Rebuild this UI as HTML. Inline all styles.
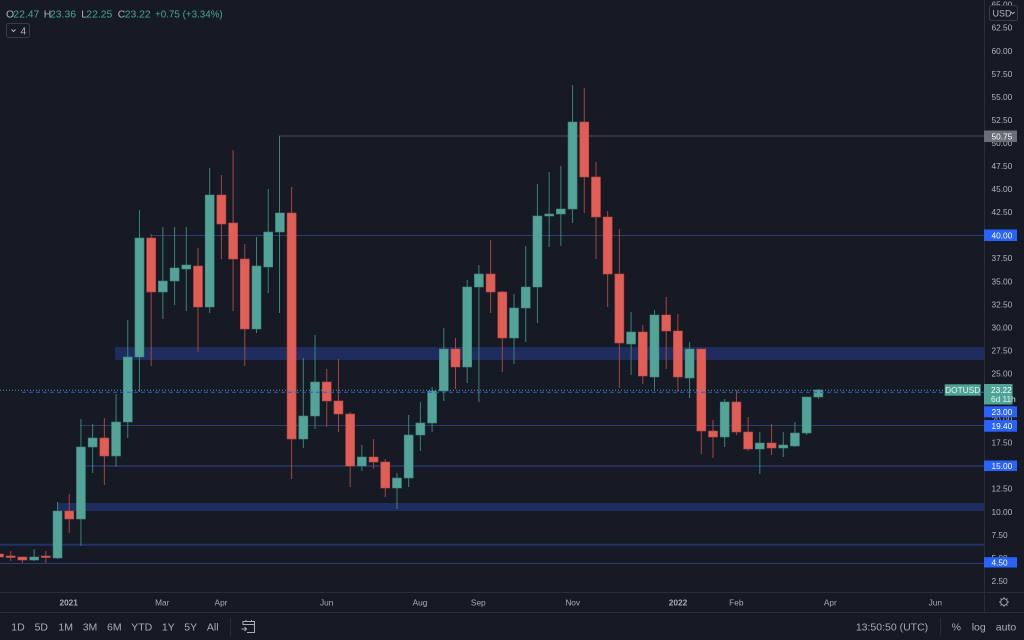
<!DOCTYPE html>
<html><head><meta charset="utf-8"><style>
html,body{margin:0;padding:0;background:#161a25;}
svg{display:block;}
text{font-family:"Liberation Sans",sans-serif;}
.g{fill:#52a398;stroke:#3f857c;stroke-width:0.6}
.r{fill:#e15d55;stroke:#b84a44;stroke-width:0.6}
.wg{stroke:#3b8278;stroke-width:1}
.wr{stroke:#a8453f;stroke-width:1}
.ax{fill:#b2b5be;font-size:8.3px}
.tx{fill:#a9acb5;font-size:8.3px;text-anchor:middle}
.tb{fill:#a9acb5;font-size:10.5px;text-anchor:middle}
.lb{fill:#ffffff;font-size:8.3px}
</style></head><body>
<svg width="1024" height="640" viewBox="0 0 1024 640" xmlns="http://www.w3.org/2000/svg">
<rect width="1024" height="640" fill="#161a25"/>

<!-- zones and levels -->
<rect x="115" y="347" width="869" height="13" fill="#1f2d5e"/>
<rect x="57" y="503" width="927" height="8" fill="#1f2d5e"/>
<line x1="279" y1="136" x2="984" y2="136" stroke="#4a4d58" stroke-width="1"/>
<line x1="151" y1="235.5" x2="984" y2="235.5" stroke="#2f3c74" stroke-width="1"/>
<line x1="80" y1="425.5" x2="984" y2="425.5" stroke="#2f3c74" stroke-width="1"/>
<line x1="85" y1="466" x2="984" y2="466" stroke="#2a3668" stroke-width="1.4"/>
<line x1="0" y1="544.7" x2="984" y2="544.7" stroke="#23316a" stroke-width="2"/>
<line x1="0" y1="563.5" x2="984" y2="563.5" stroke="#2f3c74" stroke-width="1"/>

<!-- candles -->
<g>
<line class="wr" x1="-1" y1="554" x2="-1" y2="557"/><rect class="r" x="-5.5" y="554" width="9" height="3"/>
<line class="wr" x1="10.7" y1="551" x2="10.7" y2="561"/><rect class="r" x="6.2" y="556" width="9" height="1.5"/>
<line class="wr" x1="22.41" y1="557" x2="22.41" y2="563"/><rect class="r" x="17.91" y="557" width="9" height="3"/>
<line class="wg" x1="34.12" y1="549" x2="34.12" y2="561"/><rect class="g" x="29.62" y="557" width="9" height="3"/>
<line class="wr" x1="45.82" y1="551" x2="45.82" y2="563"/><rect class="r" x="41.32" y="556" width="9" height="1.5"/>
<line class="wg" x1="57.53" y1="502" x2="57.53" y2="559"/><rect class="g" x="53.03" y="511" width="9" height="47"/>
<line class="wr" x1="69.23" y1="494" x2="69.23" y2="533"/><rect class="r" x="64.73" y="511" width="9" height="8"/>
<line class="wg" x1="80.94" y1="419" x2="80.94" y2="546"/><rect class="g" x="76.44" y="447" width="9" height="72"/>
<line class="wg" x1="92.64" y1="424" x2="92.64" y2="473"/><rect class="g" x="88.14" y="438" width="9" height="9"/>
<line class="wr" x1="104.35" y1="418" x2="104.35" y2="485"/><rect class="r" x="99.85" y="438" width="9" height="18"/>
<line class="wg" x1="116.05" y1="394" x2="116.05" y2="467"/><rect class="g" x="111.55" y="422" width="9" height="34"/>
<line class="wg" x1="127.76" y1="320" x2="127.76" y2="438"/><rect class="g" x="123.26" y="357" width="9" height="65"/>
<line class="wg" x1="139.46" y1="210" x2="139.46" y2="392"/><rect class="g" x="134.96" y="238" width="9" height="119"/>
<line class="wr" x1="151.17" y1="234" x2="151.17" y2="366"/><rect class="r" x="146.67" y="238" width="9" height="54"/>
<line class="wg" x1="162.87" y1="227" x2="162.87" y2="319"/><rect class="g" x="158.37" y="281" width="9" height="11"/>
<line class="wg" x1="174.58" y1="227" x2="174.58" y2="305"/><rect class="g" x="170.08" y="268" width="9" height="13"/>
<line class="wg" x1="186.28" y1="227" x2="186.28" y2="311"/><rect class="g" x="181.78" y="265" width="9" height="4"/>
<line class="wr" x1="197.99" y1="248" x2="197.99" y2="352"/><rect class="r" x="193.49" y="266" width="9" height="41"/>
<line class="wg" x1="209.69" y1="168" x2="209.69" y2="313"/><rect class="g" x="205.19" y="195" width="9" height="112"/>
<line class="wr" x1="221.4" y1="175" x2="221.4" y2="259"/><rect class="r" x="216.9" y="195" width="9" height="29"/>
<line class="wr" x1="233.1" y1="150" x2="233.1" y2="311"/><rect class="r" x="228.6" y="223" width="9" height="36"/>
<line class="wr" x1="244.81" y1="244" x2="244.81" y2="366"/><rect class="r" x="240.31" y="259" width="9" height="70"/>
<line class="wg" x1="256.51" y1="237" x2="256.51" y2="333"/><rect class="g" x="252.01" y="266" width="9" height="63"/>
<line class="wg" x1="268.22" y1="189" x2="268.22" y2="293"/><rect class="g" x="263.72" y="232" width="9" height="35"/>
<line class="wg" x1="279.5" y1="136" x2="279.5" y2="313"/><rect class="g" x="275.42" y="213" width="9" height="19"/>
<line class="wr" x1="291.63" y1="187" x2="291.63" y2="479"/><rect class="r" x="287.13" y="213" width="9" height="226"/>
<line class="wg" x1="303.33" y1="358" x2="303.33" y2="448"/><rect class="g" x="298.83" y="416" width="9" height="23"/>
<line class="wg" x1="315.04" y1="335" x2="315.04" y2="429"/><rect class="g" x="310.54" y="382" width="9" height="34"/>
<line class="wr" x1="326.74" y1="369" x2="326.74" y2="427"/><rect class="r" x="322.24" y="382" width="9" height="19"/>
<line class="wr" x1="338.45" y1="359" x2="338.45" y2="432"/><rect class="r" x="333.95" y="401" width="9" height="13"/>
<line class="wr" x1="350.15" y1="412" x2="350.15" y2="487"/><rect class="r" x="345.65" y="414" width="9" height="52"/>
<line class="wg" x1="361.86" y1="445" x2="361.86" y2="471"/><rect class="g" x="357.36" y="457" width="9" height="9"/>
<line class="wr" x1="373.56" y1="439" x2="373.56" y2="469"/><rect class="r" x="369.06" y="457" width="9" height="5"/>
<line class="wr" x1="385.27" y1="459" x2="385.27" y2="497"/><rect class="r" x="380.77" y="462" width="9" height="26"/>
<line class="wg" x1="396.97" y1="473" x2="396.97" y2="509"/><rect class="g" x="392.47" y="478" width="9" height="10"/>
<line class="wg" x1="408.68" y1="415" x2="408.68" y2="487"/><rect class="g" x="404.18" y="435" width="9" height="43"/>
<line class="wg" x1="420.38" y1="402" x2="420.38" y2="451"/><rect class="g" x="415.88" y="423" width="9" height="12"/>
<line class="wg" x1="432.09" y1="387" x2="432.09" y2="432"/><rect class="g" x="427.59" y="391" width="9" height="32"/>
<line class="wg" x1="443.79" y1="328" x2="443.79" y2="401"/><rect class="g" x="439.29" y="349" width="9" height="42"/>
<line class="wr" x1="455.5" y1="338" x2="455.5" y2="389"/><rect class="r" x="451" y="349" width="9" height="18"/>
<line class="wg" x1="467.2" y1="280" x2="467.2" y2="383"/><rect class="g" x="462.7" y="287" width="9" height="80"/>
<line class="wg" x1="478.91" y1="265" x2="478.91" y2="402"/><rect class="g" x="474.41" y="274" width="9" height="13"/>
<line class="wr" x1="490.61" y1="240" x2="490.61" y2="313"/><rect class="r" x="486.11" y="274" width="9" height="18"/>
<line class="wr" x1="502.32" y1="291" x2="502.32" y2="372"/><rect class="r" x="497.82" y="292" width="9" height="46"/>
<line class="wg" x1="514.02" y1="294" x2="514.02" y2="364"/><rect class="g" x="509.52" y="308" width="9" height="30"/>
<line class="wg" x1="525.73" y1="246" x2="525.73" y2="342"/><rect class="g" x="521.23" y="287" width="9" height="21"/>
<line class="wg" x1="537.43" y1="184" x2="537.43" y2="323"/><rect class="g" x="532.93" y="216" width="9" height="71"/>
<line class="wg" x1="549.14" y1="172" x2="549.14" y2="247"/><rect class="g" x="544.64" y="214" width="9" height="2"/>
<line class="wg" x1="560.84" y1="166" x2="560.84" y2="246"/><rect class="g" x="556.34" y="209" width="9" height="5"/>
<line class="wg" x1="572.55" y1="85" x2="572.55" y2="223"/><rect class="g" x="568.05" y="122" width="9" height="87"/>
<line class="wr" x1="584.25" y1="88" x2="584.25" y2="213"/><rect class="r" x="579.75" y="122" width="9" height="55"/>
<line class="wr" x1="595.96" y1="162" x2="595.96" y2="259"/><rect class="r" x="591.46" y="177" width="9" height="40"/>
<line class="wr" x1="607.66" y1="211" x2="607.66" y2="307"/><rect class="r" x="603.16" y="217" width="9" height="57"/>
<line class="wr" x1="619.37" y1="229" x2="619.37" y2="388"/><rect class="r" x="614.87" y="274" width="9" height="69"/>
<line class="wg" x1="631.07" y1="312" x2="631.07" y2="375"/><rect class="g" x="626.57" y="332" width="9" height="12"/>
<line class="wr" x1="642.78" y1="325" x2="642.78" y2="384"/><rect class="r" x="638.28" y="332" width="9" height="44"/>
<line class="wg" x1="654.48" y1="310" x2="654.48" y2="390"/><rect class="g" x="649.98" y="315" width="9" height="62"/>
<line class="wr" x1="666.19" y1="297" x2="666.19" y2="369"/><rect class="r" x="661.69" y="315" width="9" height="16"/>
<line class="wr" x1="677.89" y1="314" x2="677.89" y2="392"/><rect class="r" x="673.39" y="331" width="9" height="46"/>
<line class="wg" x1="689.6" y1="342" x2="689.6" y2="398"/><rect class="g" x="685.1" y="349" width="9" height="29"/>
<line class="wr" x1="701.3" y1="349" x2="701.3" y2="454"/><rect class="r" x="696.8" y="349" width="9" height="82"/>
<line class="wr" x1="713.01" y1="420" x2="713.01" y2="458"/><rect class="r" x="708.51" y="431" width="9" height="6"/>
<line class="wg" x1="724.71" y1="399" x2="724.71" y2="447"/><rect class="g" x="720.21" y="402" width="9" height="35"/>
<line class="wr" x1="736.42" y1="390" x2="736.42" y2="435"/><rect class="r" x="731.92" y="402" width="9" height="30"/>
<line class="wr" x1="748.12" y1="417" x2="748.12" y2="451"/><rect class="r" x="743.62" y="432" width="9" height="17"/>
<line class="wg" x1="759.83" y1="432" x2="759.83" y2="474"/><rect class="g" x="755.33" y="443" width="9" height="6"/>
<line class="wr" x1="771.53" y1="424" x2="771.53" y2="455"/><rect class="r" x="767.03" y="443" width="9" height="5"/>
<line class="wg" x1="783.24" y1="432" x2="783.24" y2="457"/><rect class="g" x="778.74" y="445" width="9" height="3"/>
<line class="wg" x1="794.94" y1="422" x2="794.94" y2="447"/><rect class="g" x="790.44" y="433" width="9" height="13"/>
<line class="wg" x1="806.65" y1="397" x2="806.65" y2="435"/><rect class="g" x="802.15" y="397" width="9" height="36"/>
<line class="wg" x1="818.35" y1="389" x2="818.35" y2="399"/><rect class="g" x="813.85" y="390" width="9" height="7"/>
</g>

<!-- price lines -->
<line x1="0" y1="390.3" x2="944" y2="390.3" stroke="#4fa397" stroke-width="1" stroke-dasharray="1 2"/>
<line x1="22" y1="392.3" x2="984" y2="392.3" stroke="#2d5bd8" stroke-width="1" stroke-dasharray="4 3"/>

<!-- separators -->
<line x1="984.5" y1="0" x2="984.5" y2="612" stroke="#2a2e39" stroke-width="1"/>
<line x1="0" y1="592.5" x2="1024" y2="592.5" stroke="#2a2e39" stroke-width="1"/>
<line x1="0" y1="612.5" x2="1024" y2="612.5" stroke="#2a2e39" stroke-width="1"/>

<!-- price axis labels -->
<g class="ax">
<text x="991.5" y="7.6">65.00</text>
<text x="991.5" y="30.7">62.50</text>
<text x="991.5" y="53.8">60.00</text>
<text x="991.5" y="76.8">57.50</text>
<text x="991.5" y="99.9">55.00</text>
<text x="991.5" y="122.9">52.50</text>
<text x="991.5" y="146">50.00</text>
<text x="991.5" y="169">47.50</text>
<text x="991.5" y="192.1">45.00</text>
<text x="991.5" y="215.1">42.50</text>
<text x="991.5" y="238.2">40.00</text>
<text x="991.5" y="261.2">37.50</text>
<text x="991.5" y="284.3">35.00</text>
<text x="991.5" y="307.3">32.50</text>
<text x="991.5" y="330.4">30.00</text>
<text x="991.5" y="353.4">27.50</text>
<text x="991.5" y="376.5">25.00</text>
<text x="991.5" y="399.5">22.50</text>
<text x="991.5" y="422.6">20.00</text>
<text x="991.5" y="445.6">17.50</text>
<text x="991.5" y="468.7">15.00</text>
<text x="991.5" y="491.7">12.50</text>
<text x="991.5" y="514.8">10.00</text>
<text x="991.5" y="537.8">7.50</text>
<text x="991.5" y="560.9">5.00</text>
<text x="991.5" y="583.9">2.50</text>
</g>

<!-- USD button -->
<rect x="989.5" y="5.5" width="28" height="15" rx="2" fill="#161a25" stroke="#363a45"/>
<text x="992.5" y="16.3" fill="#b2b5be" font-size="9px">USD</text>
<polyline points="1011,12 1012.8,13.8 1014.6,12" fill="none" stroke="#b2b5be" stroke-width="0.9"/>

<!-- level labels -->
<rect x="984" y="130.5" width="33" height="11.5" fill="#6b6e79"/>
<text class="lb" x="991.5" y="139.4">50.75</text>
<rect x="984" y="229.5" width="33" height="11.5" fill="#2962ff"/>
<text class="lb" x="991.5" y="238.4">40.00</text>
<rect x="944.7" y="384.3" width="36" height="11.4" fill="#4fa397"/>
<text x="962.7" y="393" fill="#e6f3f1" font-size="8.3px" text-anchor="middle">DOTUSD</text>
<rect x="984" y="384" width="28.5" height="20.5" fill="#4fa397"/>
<text x="991" y="393" fill="#ffffff" font-size="8.3px">23.22</text>
<text x="991" y="402" fill="#e6f3f1" font-size="8.3px">6d 11h</text>
<rect x="984" y="406.3" width="33" height="11" fill="#2962ff"/>
<text class="lb" x="991.5" y="414.9">23.00</text>
<rect x="984" y="420" width="33" height="11.7" fill="#2962ff"/>
<text class="lb" x="991.5" y="429">19.40</text>
<rect x="984" y="460.5" width="33" height="10.5" fill="#2962ff"/>
<text class="lb" x="991.5" y="468.9">15.00</text>
<rect x="984" y="557.2" width="33" height="10.3" fill="#2962ff"/>
<text class="lb" x="991.5" y="565.5">4.50</text>

<!-- header -->
<g font-size="10.4px">
<text x="6" y="17.7" fill="#b2b5be">O</text>
<text x="13.3" y="17.7" fill="#4aa596">22.47</text>
<text x="43.7" y="17.7" fill="#b2b5be">H</text>
<text x="50" y="17.7" fill="#4aa596">23.36</text>
<text x="81.3" y="17.7" fill="#b2b5be">L</text>
<text x="86.3" y="17.7" fill="#4aa596">22.25</text>
<text x="117.7" y="17.7" fill="#b2b5be">C</text>
<text x="124.7" y="17.7" fill="#4aa596">23.22</text>
<text x="155" y="17.7" fill="#4aa596" textLength="67.7" lengthAdjust="spacingAndGlyphs">+0.75 (+3.34%)</text>
</g>
<rect x="6.5" y="23.5" width="23" height="14" rx="2" fill="#161a25" stroke="#363a45"/>
<polyline points="11.5,29.5 13.5,31.5 15.5,29.5" fill="none" stroke="#b2b5be" stroke-width="1"/>
<text x="20.5" y="34.3" fill="#b2b5be" font-size="10px">4</text>

<!-- time axis -->
<g class="tx">
<text x="68.7" y="605.3" font-weight="bold">2021</text>
<text x="162.3" y="605.3">Mar</text>
<text x="221" y="605.3">Apr</text>
<text x="326.7" y="605.3">Jun</text>
<text x="420" y="605.3">Aug</text>
<text x="478.3" y="605.3">Sep</text>
<text x="572.7" y="605.3">Nov</text>
<text x="678" y="605.3" font-weight="bold">2022</text>
<text x="736.3" y="605.3">Feb</text>
<text x="830.3" y="605.3">Apr</text>
<text x="935.3" y="605.3">Jun</text>
</g>
<!-- gear -->
<g transform="translate(1004,602)" stroke="#a9acb5" fill="none" stroke-width="0.9">
<circle r="3.3"/>
<line x1="0" y1="-3.3" x2="0" y2="-5"/><line x1="0" y1="3.3" x2="0" y2="5"/>
<line x1="-3.3" y1="0" x2="-5" y2="0"/><line x1="3.3" y1="0" x2="5" y2="0"/>
<line x1="2.3" y1="2.3" x2="3.5" y2="3.5"/><line x1="-2.3" y1="-2.3" x2="-3.5" y2="-3.5"/>
<line x1="2.3" y1="-2.3" x2="3.5" y2="-3.5"/><line x1="-2.3" y1="2.3" x2="-3.5" y2="3.5"/>
</g>

<!-- bottom toolbar -->
<g class="tb">
<text x="18" y="630.5">1D</text>
<text x="41.3" y="630.5">5D</text>
<text x="65.7" y="630.5">1M</text>
<text x="90" y="630.5">3M</text>
<text x="114.3" y="630.5">6M</text>
<text x="141.7" y="630.5">YTD</text>
<text x="168.3" y="630.5">1Y</text>
<text x="190.7" y="630.5">5Y</text>
<text x="212.7" y="630.5">All</text>
<text x="892" y="630.5">13:50:50 (UTC)</text>
<text x="956.3" y="630.5">%</text>
<text x="978.7" y="630.5">log</text>
<text x="1006" y="630.5">auto</text>
</g>
<line x1="230.5" y1="618" x2="230.5" y2="636" stroke="#2a2e39"/>
<line x1="940.5" y1="618" x2="940.5" y2="636" stroke="#2a2e39"/>
<g stroke="#a9acb5" fill="none" stroke-width="1">
<path d="M243 625 V621.5 H254.5 V632.5 H247"/>
<line x1="243" y1="624.5" x2="254.5" y2="624.5"/>
<line x1="246" y1="620" x2="246" y2="622"/><line x1="251.5" y1="620" x2="251.5" y2="622"/>
<path d="M241.5 629 H246.5 M244.5 627 L246.5 629 L244.5 631"/>
</g>
</svg>
</body></html>
